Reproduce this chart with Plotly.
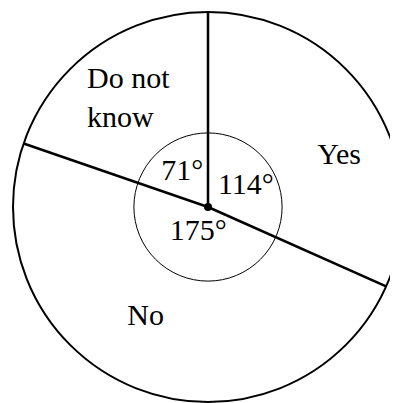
import numpy as np
import plotly.graph_objects as go

# survey answers and the angle each sector takes in the pie chart
categories = ["Yes", "No", "Do not know"]
angles = [114, 175, 71]
angle_labels = [f"{a}°" for a in angles]

# where the words sit (r as a fraction of the radius, theta clockwise from 12 o'clock)
name_r = [0.72, 0.65, 0.83]
name_theta = [69, 209.5, 311.6]
deg_r = [0.22, 0.14, 0.22]
deg_theta = [62, 201, 323]

font = dict(family="Liberation Serif", size=30, color="black")

# sector edges start at the top and run clockwise
edges = np.concatenate([[0], np.cumsum(angles)[:-1]])

fig = go.Figure()
for e in edges:
    fig.add_trace(go.Scatterpolar(r=[0, 1], theta=[e, e], mode="lines",
                                  line=dict(color="black", width=2.5), hoverinfo="skip"))

fig.add_trace(go.Scatterpolar(r=[0], theta=[0], mode="markers",
                              marker=dict(color="black", size=8)))

fig.add_trace(go.Scatterpolar(r=deg_r, theta=deg_theta, mode="text",
                              text=angle_labels, textfont=font, textposition="middle center"))

txt = [c.replace("Do not know", "Do not<br>know") for c in categories]
fig.add_trace(go.Scatterpolar(r=name_r[:2], theta=name_theta[:2], mode="text",
                              text=txt[:2], textfont=font, textposition="middle center"))
fig.add_trace(go.Scatterpolar(r=name_r[2:], theta=name_theta[2:], mode="text",
                              text=txt[2:], textfont=font, textposition="middle right"))

fig.update_layout(
    width=398, height=403, showlegend=False,
    margin=dict(l=5, r=3, t=4, b=9),
    paper_bgcolor="white",
    polar=dict(
        bgcolor="white",
        angularaxis=dict(rotation=90, direction="clockwise", showline=True, linecolor="black",
                         linewidth=2, showgrid=False, showticklabels=False, ticks=""),
        radialaxis=dict(range=[0, 1], tickvals=[0.38], showgrid=True, gridcolor="black",
                        gridwidth=1, showline=False, showticklabels=False, ticks=""),
    ),
)

fig.write_html("out.html")
